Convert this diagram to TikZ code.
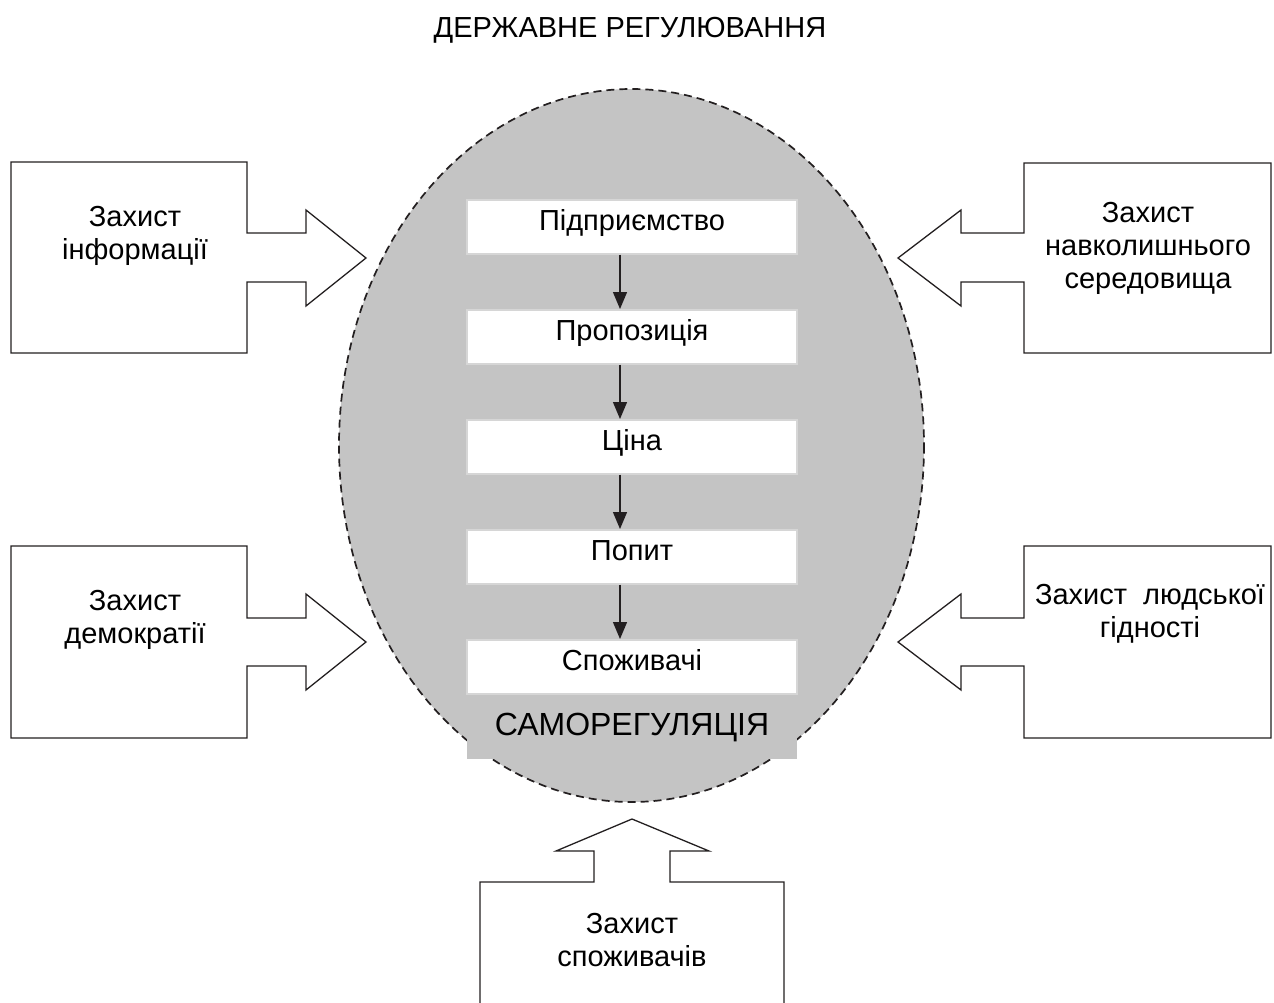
\documentclass[tikz,border=0pt]{standalone}
\usepackage{fontspec}
\setmainfont{Liberation Sans}
\usetikzlibrary{arrows.meta}
\definecolor{ovalgray}{RGB}{196,196,196}
\definecolor{boxedge}{RGB}{214,214,214}
\definecolor{ink}{RGB}{35,31,32}
\tikzset{
  callout/.style={draw=ink, line width=1.3pt, fill=white, line join=miter},
  lbl/.style={align=center, font=\fontsize{29}{33}\selectfont, inner sep=0pt},
  stepbox/.style={draw=boxedge, line width=1.5pt, fill=white, minimum width=330pt, minimum height=54pt, inner sep=0pt, text height=21pt, text depth=13pt, font=\fontsize{29}{33}\selectfont, anchor=north},
  flow/.style={draw=ink, line width=1.3pt, -{Triangle[length=17pt,width=14pt]}},
}
\begin{document}
\begin{tikzpicture}[x=1pt,y=-1pt]
\useasboundingbox (0,0) rectangle (1274,1002);
% title
\node[font=\fontsize{29}{33}\selectfont, anchor=base, inner sep=0pt] (title) at (630,37) {ДЕРЖАВНЕ РЕГУЛЮВАННЯ};
% oval
\draw[fill=ovalgray, draw=ink, line width=1.7pt, dash pattern=on 8pt off 5pt] (631.5,445.5) ellipse [x radius=292.5, y radius=356.5];
% self-regulation label band
\fill[ovalgray] (467,693) rectangle (797,759);
\node[font=\fontsize{32}{36}\selectfont, anchor=base, inner sep=0pt] (selfreg) at (632,735) {САМОРЕГУЛЯЦІЯ};
% chain
\node[stepbox] (s1) at (632,199) {Підприємство};
\node[stepbox] (s2) at (632,309) {Пропозиція};
\node[stepbox] (s3) at (632,419) {Ціна};
\node[stepbox] (s4) at (632,529) {Попит};
\node[stepbox] (s5) at (632,639) {Споживачі};
\foreach \a/\b in {s1/s2,s2/s3,s3/s4,s4/s5}{
  \draw[flow] ([xshift=-12pt]\a.south) -- ([xshift=-12pt]\b.north);
}
% callouts
\draw[callout] (11,162) -- (247,162) -- (247,233) -- (306,233) -- (306,210) -- (366,258) -- (306,306) -- (306,282) -- (247,282) -- (247,353) -- (11,353) -- cycle;
\draw[callout] (11,546) -- (247,546) -- (247,618) -- (306,618) -- (306,594) -- (366,642) -- (306,690) -- (306,666) -- (247,666) -- (247,738) -- (11,738) -- cycle;
\draw[callout] (1271,163) -- (1024,163) -- (1024,233) -- (961,233) -- (961,210) -- (898,258) -- (961,306) -- (961,282) -- (1024,282) -- (1024,353) -- (1271,353) -- cycle;
\draw[callout] (1271,546) -- (1024,546) -- (1024,618) -- (961,618) -- (961,594) -- (898,642) -- (961,690) -- (961,666) -- (1024,666) -- (1024,738) -- (1271,738) -- cycle;
\draw[callout] (480,1004) -- (480,882) -- (594,882) -- (594,851) -- (556,851) -- (632,819) -- (709,851) -- (670,851) -- (670,882) -- (784,882) -- (784,1004);
% callout labels
\node[lbl] (info) at (135,236) {Захист\\інформації};
\node[lbl] (demo) at (135,620) {Захист\\демократії};
\node[lbl] (env) at (1148,248) {Захист\\навколишнього\\середовища};
\node[lbl] (dign) at (1150,614) {Захист~ людської\\гідності};
\node[lbl] (cons) at (632,940) {Захист\\споживачів};
\end{tikzpicture}
\end{document}
